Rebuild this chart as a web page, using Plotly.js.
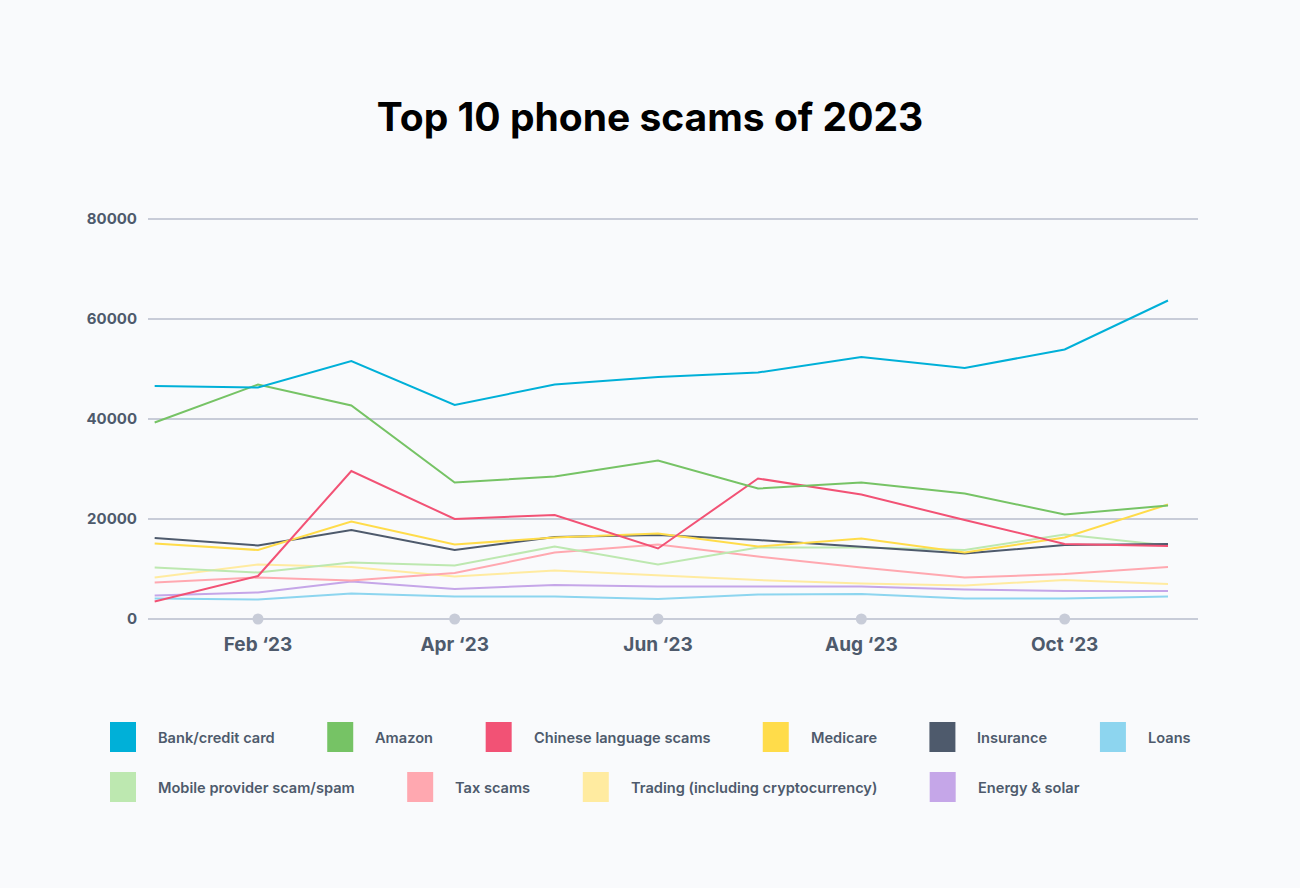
<!DOCTYPE html>
<html><head><meta charset="utf-8">
<script src="https://cdn.plot.ly/plotly-3.0.1.min.js"></script>
<style>html,body{margin:0;padding:0;background:#f9fafc}#chart{width:1300px;height:888px}</style>
</head><body><div id="chart"></div>
<script>
const months = ['2023-01-01','2023-02-01','2023-03-01','2023-04-01','2023-05-01','2023-06-01','2023-07-01','2023-08-01','2023-09-01','2023-10-01','2023-11-01'];
const tickDates = ['2023-02-01','2023-04-01','2023-06-01','2023-08-01','2023-10-01'];
const tickLabels = ['Feb \u201823','Apr \u201823','Jun \u201823','Aug \u201823','Oct \u201823'];
const yTicks = [0, 20000, 40000, 60000, 80000];

const seriesNames = ['Bank/credit card','Amazon','Chinese language scams','Medicare','Insurance','Loans','Mobile provider scam/spam','Tax scams','Trading (including cryptocurrency)','Energy & solar'];
const bankCredit = [46600, 46300, 51600, 42800, 46900, 48400, 49300, 52400, 50200, 53900, 63700];
const amazon     = [39300, 46900, 42700, 27300, 28500, 31700, 26100, 27300, 25100, 20900, 22700];
const chinese    = [3500, 8600, 29600, 20000, 20800, 14100, 28100, 24900, 19800, 15000, 14600];
const medicare   = [15100, 13800, 19500, 14900, 16300, 17100, 14500, 16100, 13300, 16300, 22900];
const insurance  = [16200, 14700, 17800, 13800, 16400, 16800, 15800, 14400, 13100, 14800, 15000];
const loans      = [4100, 3900, 5100, 4500, 4500, 4000, 4900, 5000, 4100, 4100, 4500];
const mobile     = [10300, 9300, 11300, 10700, 14500, 10900, 14300, 14300, 13800, 16900, 14700];
const tax        = [7300, 8300, 7700, 9200, 13300, 14900, 12500, 10300, 8300, 9000, 10400];
const trading    = [8300, 10900, 10400, 8500, 9700, 8700, 7800, 7100, 6700, 7800, 7000];
const energy     = [4700, 5300, 7500, 6000, 6800, 6500, 6500, 6500, 5900, 5600, 5600];
const seriesValues = [bankCredit, amazon, chinese, medicare, insurance, loans, mobile, tax, trading, energy];
const seriesColors = ['#00b0d8','#76c365','#f25275','#ffdc4a','#4e5a6c','#8dd5ef','#bde8b0','#ffa8b0','#ffeba0','#c5a6e8'];

const W = 1300, H = 888;
const M = {l:148, r:102, t:217, b:267};
const plotW = W - M.l - M.r, plotH = H - M.t - M.b;
const textColor = '#4e5a6c';
const gridColor = '#c8ccd8';

const traces = [];
for (let i = seriesNames.length - 1; i >= 0; i--) {
  traces.push({
    x: months, y: seriesValues[i], name: seriesNames[i], type: 'scatter', mode: 'lines',
    line: {color: seriesColors[i], width: 2}, showlegend: false, hoverinfo: 'skip'
  });
}
traces.push({
  x: tickDates, y: tickDates.map(() => 0), type: 'scatter', mode: 'markers',
  marker: {color: gridColor, size: 11}, cliponaxis: false, showlegend: false, hoverinfo: 'skip'
});

// custom legend
const canvas = document.createElement('canvas');
const ctx = canvas.getContext('2d');
const legendSize = 14.6;
ctx.font = '600 ' + legendSize + 'px Inter';
const shapes = [], annotations = [];
const rows = [[0,1,2,3,4,5],[6,7,8,9]];
const rowY = [737, 787];
const px2x = px => (px - M.l) / plotW;
const py2y = py => (H - M.b - py) / plotH;
rows.forEach((row, r) => {
  let x = 110;
  row.forEach(i => {
    shapes.push({type:'rect', xref:'paper', yref:'paper', x0:px2x(x), x1:px2x(x+26), y0:py2y(rowY[r]-15), y1:py2y(rowY[r]+15), fillcolor: seriesColors[i], line:{width:0}, layer:'above'});
    const tx = x + 46;
    annotations.push({xref:'paper', yref:'paper', x:px2x(tx), y:py2y(rowY[r]+1), xanchor:'left', yanchor:'middle', showarrow:false, text: seriesNames[i], font:{family:'Inter, sans-serif', size:legendSize, color:textColor, weight:600}});
    const tw = ctx.measureText(seriesNames[i]).width;
    x = tx + tw + 54.5;
  });
});

const layout = {
  width: W, height: H,
  paper_bgcolor: '#f9fafc', plot_bgcolor: '#f9fafc',
  margin: M,
  title: {text: 'Top 10 phone scams of 2023', x: 0.5, xref: 'container', xanchor: 'center', y: 1 - 117/H, yref: 'container', yanchor: 'middle',
          font: {family: 'Inter, sans-serif', size: 39, color: '#000', weight: 700}},
  xaxis: {type: 'date', range: ['2022-12-30', '2023-11-10'], tickvals: tickDates, ticktext: tickLabels,
          showgrid: false, zeroline: false, showline: false, ticks: '', ticklabelstandoff: 10,
          tickfont: {family: 'Inter, sans-serif', size: 19, color: textColor, weight: 700}},
  yaxis: {range: [-400, 80400], tickvals: yTicks, ticktext: yTicks.map(String), showgrid: true, gridcolor: gridColor, gridwidth: 2,
          zeroline: false, showline: false, ticks: '', ticklabelstandoff: 10,
          tickfont: {family: 'Inter, sans-serif', size: 15, color: textColor, weight: 700}},
  shapes: shapes, annotations: annotations, showlegend: false
};
Plotly.newPlot('chart', traces, layout, {staticPlot: true, displayModeBar: false});
</script></body></html>
